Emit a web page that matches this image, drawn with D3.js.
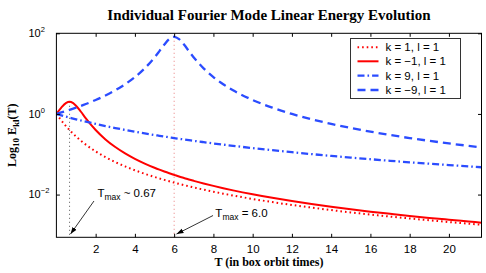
<!DOCTYPE html>
<html><head><meta charset="utf-8">
<script src="https://cdn.jsdelivr.net/npm/d3@7"></script>
<style>body{margin:0;background:#fff}svg{display:block}</style>
</head><body><svg id="c" width="486" height="273"></svg>
<script>
// ---- data ----
const T = [0,0.25,0.5,0.67,0.75,1,1.25,1.5,2,2.5,3,3.5,4,4.5,5,5.25,5.5,5.75,6,6.25,6.5,6.75,7,7.5,8,8.5,9,10,11,12,13,14,15,16,17,18,19,20,21,21.66];
const E_k1_l1 = [1.0,0.692,0.492,0.398,0.363,0.276,0.216,0.173,0.1176,0.0849,0.0640,0.0499,0.0400,0.0328,0.0273,0.0251,0.0231,0.0214,0.0198,0.0184,0.01716,0.01603,0.0150,0.01324,0.01176,0.01052,0.00947,0.00778,0.00651,0.00552,0.00475,0.00412,0.00361,0.00319,0.00284,0.00255,0.00230,0.00208,0.00189,0.00178];
const E_km1_l1 = [1.0,1.438,1.882,2.0,1.969,1.6,1.133,0.780,0.4,0.2336,0.1509,0.1049,0.0769,0.0587,0.0462,0.0414,0.0373,0.0338,0.0308,0.0281,0.0258,0.0237,0.0219,0.01886,0.0164,0.01438,0.01272,0.01015,0.00829,0.00690,0.00583,0.00499,0.00432,0.00377,0.00333,0.00295,0.00264,0.00238,0.00215,0.00201];
const E_k9_l1 = [1.0,0.9225,0.854,0.811,0.792,0.737,0.6875,0.643,0.566,0.501,0.447,0.402,0.363,0.329,0.300,0.287,0.2746,0.2631,0.252,0.2421,0.2326,0.2236,0.215,0.1995,0.1855,0.1730,0.1617,0.1421,0.1259,0.1123,0.1008,0.0910,0.0826,0.0752,0.0688,0.0632,0.0583,0.0539,0.0500,0.0476];
const E_km9_l1 = [1.0,1.088,1.187,1.263,1.301,1.432,1.584,1.761,2.216,2.871,3.859,5.444,8.2,13.53,25.23,36.19,52.48,71.89,82,71.89,52.48,36.19,25.23,13.53,8.2,5.444,3.859,2.216,1.432,1.0,0.737,0.566,0.447,0.363,0.300,0.252,0.215,0.1855,0.1617,0.1483];
const seriesLabels = ["k = 1, l = 1","k = \u22121, l = 1","k = 9, l = 1","k = \u22129, l = 1"];
const xTicks = [2,4,6,8,10,12,14,16,18,20];
const yTicks = [100,1,0.01];
const yTickExp = ["2","0","\u22122"];
const tMax = [0.67, 6.0];
const eMax = [2, 82];
const tMaxText = ["~ 0.67", "= 6.0"];
const titleText = "Individual Fourier Mode Linear Energy Evolution";
const xLabel = "T (in box orbit times)";

// ---- layout ----
const L = 56.4, R = 481.5, Tp = 33.3, B = 237.3;
const svg = d3.select("#c");
const x = d3.scaleLinear().domain([0, 21.66]).range([L, R]);
const y = d3.scaleLog().domain([Math.pow(10, -3.06), 100]).range([B, Tp]);
const blue = "#2b4cff", red = "#ff0000";

const series = [
  {vals: E_k1_l1, color: red, w: 2, dash: "1.6,3"},
  {vals: E_km1_l1, color: red, w: 2, dash: null},
  {vals: E_k9_l1, color: blue, w: 2.3, dash: "7,3,1.6,3"},
  {vals: E_km9_l1, color: blue, w: 2.3, dash: "8,5"}
];

svg.append("defs").append("clipPath").attr("id","clip")
  .append("rect").attr("x",L).attr("y",Tp).attr("width",R-L).attr("height",B-Tp);
const defs = svg.select("defs");
defs.append("marker").attr("id","arr").attr("viewBox","0 0 10 10").attr("refX",10).attr("refY",5)
  .attr("markerWidth",7).attr("markerHeight",7).attr("markerUnits","userSpaceOnUse").attr("orient","auto")
  .append("path").attr("d","M0,1.5 L10,5 L0,8.5 Z").attr("fill","#000");

// vertical Tmax lines
const g = svg.append("g").attr("clip-path","url(#clip)");
g.append("line").attr("x1",x(tMax[0])).attr("x2",x(tMax[0])).attr("y1",y(eMax[0])).attr("y2",B)
  .attr("stroke","#555").attr("stroke-width",1).attr("stroke-dasharray","1,3");
g.append("line").attr("x1",x(tMax[1])).attr("x2",x(tMax[1])).attr("y1",y(eMax[1])).attr("y2",B)
  .attr("stroke","#e87a7a").attr("stroke-width",1).attr("stroke-dasharray","1,3");

const line = d3.line().x((d,i)=>x(T[i])).y(d=>y(d)).curve(d3.curveMonotoneX);
series.forEach(s=>{
  g.append("path").attr("d", line(s.vals)).attr("fill","none")
    .attr("stroke", s.color).attr("stroke-width", s.w)
    .attr("stroke-dasharray", s.dash);
});

// axes
const tickFont = "'Liberation Sans', Arial, Helvetica, sans-serif";
const ax = svg.append("g").attr("transform",`translate(0,${B})`)
  .call(d3.axisBottom(x).tickValues(xTicks).tickSizeInner(-3.5).tickSizeOuter(0).tickPadding(7.5));
ax.select(".domain").remove();
ax.selectAll("text").attr("font-family",tickFont).attr("font-size",11.5).attr("fill","#000");
const axT = svg.append("g").attr("transform",`translate(0,${Tp})`)
  .call(d3.axisTop(x).tickValues(xTicks).tickSizeInner(-3.5).tickSizeOuter(0).tickFormat(""));
axT.select(".domain").remove();
const ayL = svg.append("g").attr("transform",`translate(${L},0)`)
  .call(d3.axisLeft(y).tickValues(yTicks).tickSizeInner(-3.5).tickSizeOuter(0).tickFormat(""));
ayL.select(".domain").remove();
const ayR = svg.append("g").attr("transform",`translate(${R},0)`)
  .call(d3.axisRight(y).tickValues(yTicks).tickSizeInner(-3.5).tickSizeOuter(0).tickFormat(""));
ayR.select(".domain").remove();
svg.selectAll(".tick line").attr("stroke","#000");

// y tick labels 10^n
yTicks.forEach((v,i)=>{
  const t = svg.append("text").attr("x",28.5).attr("y",y(v)+3.8)
    .attr("font-family",tickFont).attr("font-size",11).attr("fill","#000");
  t.append("tspan").text("10");
  t.append("tspan").attr("dy",-5).attr("font-size",7.5).text(yTickExp[i]);
});

// frame
svg.append("rect").attr("x",L).attr("y",Tp).attr("width",R-L).attr("height",B-Tp)
  .attr("fill","none").attr("stroke","#000").attr("stroke-width",1);

// title & labels
const serif = "'Liberation Serif', 'Times New Roman', Times, serif";
svg.append("text").attr("x",(L+R)/2).attr("y",20).attr("text-anchor","middle")
  .attr("font-family",serif).attr("font-weight","bold").attr("font-size",15).text(titleText);
svg.append("text").attr("x",(L+R)/2).attr("y",266).attr("text-anchor","middle")
  .attr("font-family",serif).attr("font-weight","bold").attr("font-size",12).text(xLabel);
const yl = svg.append("text").attr("transform",`translate(15.5,${(Tp+B)/2}) rotate(-90)`)
  .attr("text-anchor","middle").attr("font-family",serif).attr("font-weight","bold").attr("font-size",12);
yl.append("tspan").text("Log");
yl.append("tspan").attr("dy",3).attr("font-size",9).text("10");
yl.append("tspan").attr("dy",-3).text(" E");
yl.append("tspan").attr("dy",3).attr("font-size",9).text("kl");
yl.append("tspan").attr("dy",-3).text("(T)");

// annotations
const ann = [
  {tx:2.09, ty:-2.06, ax1:1.915, ay1:-2.16, ax2:0.72, ay2:-2.98},
  {tx:8.1, ty:-2.55, ax1:7.98, ay1:-2.52, ax2:6.12, ay2:-2.98}
];
ann.forEach((a,i)=>{
  const t = svg.append("text").attr("x",x(a.tx)).attr("y",y(Math.pow(10,a.ty)))
    .attr("font-family",tickFont).attr("font-size",11.5).attr("fill","#000");
  t.append("tspan").text("T");
  t.append("tspan").attr("dy",3.5).attr("font-size",8.5).text("max");
  t.append("tspan").attr("dy",-3.5).text(" " + tMaxText[i]);
  svg.append("line").attr("x1",x(a.ax1)).attr("y1",y(Math.pow(10,a.ay1)))
    .attr("x2",x(a.ax2)).attr("y2",y(Math.pow(10,a.ay2)))
    .attr("stroke","#000").attr("stroke-width",0.8).attr("marker-end","url(#arr)");
});

// legend
const lg = svg.append("g");
lg.append("rect").attr("x",350.5).attr("y",38.5).attr("width",110).attr("height",60)
  .attr("fill","#fff").attr("stroke","#333").attr("stroke-width",1);
const rowY = [47.3, 61.3, 75.7, 90];
series.forEach((s,i)=>{
  lg.append("line").attr("x1",357.5).attr("x2",378.5).attr("y1",rowY[i]).attr("y2",rowY[i])
    .attr("stroke",s.color).attr("stroke-width",s.w).attr("stroke-dasharray",s.dash);
  lg.append("text").attr("x",385.5).attr("y",rowY[i]+4).attr("font-family",tickFont)
    .attr("font-size",11.5).attr("fill","#000").text(seriesLabels[i]);
});
</script></body></html>
